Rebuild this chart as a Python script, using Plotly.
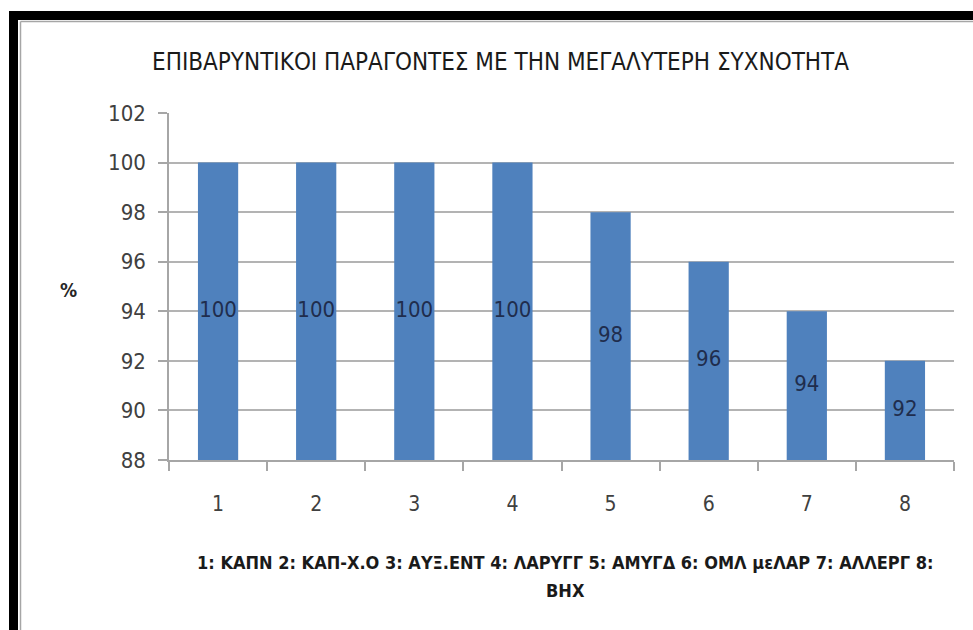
import plotly.graph_objects as go

categories = ["1", "2", "3", "4", "5", "6", "7", "8"]
values = [100, 100, 100, 100, 98, 96, 94, 92]
y_ticks = [88, 90, 92, 94, 96, 98, 100, 102]
y_min, y_max = 88, 102
title_text = "ΕΠΙΒΑΡΥΝΤΙΚΟΙ ΠΑΡΑΓΟΝΤΕΣ ΜΕ ΤΗΝ ΜΕΓΑΛΥΤΕΡΗ ΣΥΧΝΟΤΗΤΑ"
xaxis_title_lines = ["1: ΚΑΠΝ 2: ΚΑΠ-Χ.Ο 3: ΑΥΞ.ΕΝΤ 4: ΛΑΡΥΓΓ 5: ΑΜΥΓΔ 6: ΟΜΛ μεΛΑΡ 7: ΑΛΛΕΡΓ 8:", "ΒΗΧ"]
yaxis_title_text = "%"

FONT = "Liberation Sans Narrow, Arial Narrow, DejaVu Sans Condensed, sans-serif"

W, H = 973, 630
L, R, T, B = 169, 954, 113, 460  # plot area in pixels


def px(x):
    return (x - L) / (R - L)


def py(y):
    return (B - y) / (B - T)


fig = go.Figure()
fig.add_trace(go.Bar(
    x=categories,
    y=values,
    marker=dict(color="#4f81bd", line=dict(width=0)),
    width=0.41,
    hoverinfo="x+y",
))
# data labels centred in the visible part of each bar
fig.add_trace(go.Scatter(
    x=categories,
    y=[(v + y_min) / 2 for v in values],
    mode="text",
    text=[str(v) for v in values],
    textposition="middle center",
    textfont=dict(family=FONT, size=22, color="#1f2d4d"),
    hoverinfo="skip",
))

shapes = [
    # thick black frame (top and left)
    dict(type="rect", xref="paper", yref="paper", x0=px(9), x1=px(973), y0=py(20), y1=py(11),
         fillcolor="black", line=dict(width=0), layer="above"),
    dict(type="rect", xref="paper", yref="paper", x0=px(9), x1=px(18), y0=py(630), y1=py(11),
         fillcolor="black", line=dict(width=0), layer="above"),
    # thin gray inner frame
    dict(type="line", xref="paper", yref="paper", x0=px(20.5), x1=px(973), y0=py(21.5), y1=py(21.5),
         line=dict(color="#a6a6a6", width=1.5)),
    dict(type="line", xref="paper", yref="paper", x0=px(20.5), x1=px(20.5), y0=py(630), y1=py(21.5),
         line=dict(color="#a6a6a6", width=1.5)),
]

annotations = [
    dict(text=title_text, xref="paper", yref="paper", x=px(500), y=py(62), showarrow=False,
         xanchor="center", yanchor="middle",
         font=dict(family=FONT, size=24, color="#1a1a1a")),
    dict(text="<b>" + yaxis_title_text + "</b>", xref="paper", yref="paper", x=px(68), y=py(290),
         showarrow=False, xanchor="center", yanchor="middle",
         font=dict(family=FONT, size=19, color="#262626")),
    dict(text="<b>" + xaxis_title_lines[0] + "</b>", xref="paper", yref="paper", x=px(565), y=py(562),
         showarrow=False, xanchor="center", yanchor="middle",
         font=dict(family=FONT, size=18, color="#1a1a1a")),
    dict(text="<b>" + xaxis_title_lines[1] + "</b>", xref="paper", yref="paper", x=px(565), y=py(590),
         showarrow=False, xanchor="center", yanchor="middle",
         font=dict(family=FONT, size=18, color="#1a1a1a")),
]

fig.update_layout(
    width=W, height=H,
    margin=dict(l=L, r=W - R, t=T, b=H - B, pad=0),
    paper_bgcolor="white",
    plot_bgcolor="white",
    showlegend=False,
    shapes=shapes,
    annotations=annotations,
    xaxis=dict(
        type="category",
        showgrid=False,
        showline=True, linecolor="#a6a6a6", linewidth=1.5,
        ticks="outside", tickson="boundaries", ticklen=9, tickcolor="#a6a6a6", tickwidth=1.5,
        ticklabelstandoff=24,
        tickfont=dict(family=FONT, size=21, color="#404040"),
    ),
    yaxis=dict(
        range=[y_min, y_max],
        tickvals=y_ticks,
        showgrid=True, gridcolor="#b3b3b3", gridwidth=1.5,
        showline=True, linecolor="#a6a6a6", linewidth=1.5,
        ticks="outside", ticklen=9, tickcolor="#a6a6a6", tickwidth=1.5,
        ticklabelstandoff=8,
        tickfont=dict(family=FONT, size=22, color="#404040"),
        zeroline=False,
    ),
)

fig.write_html("out.html")
